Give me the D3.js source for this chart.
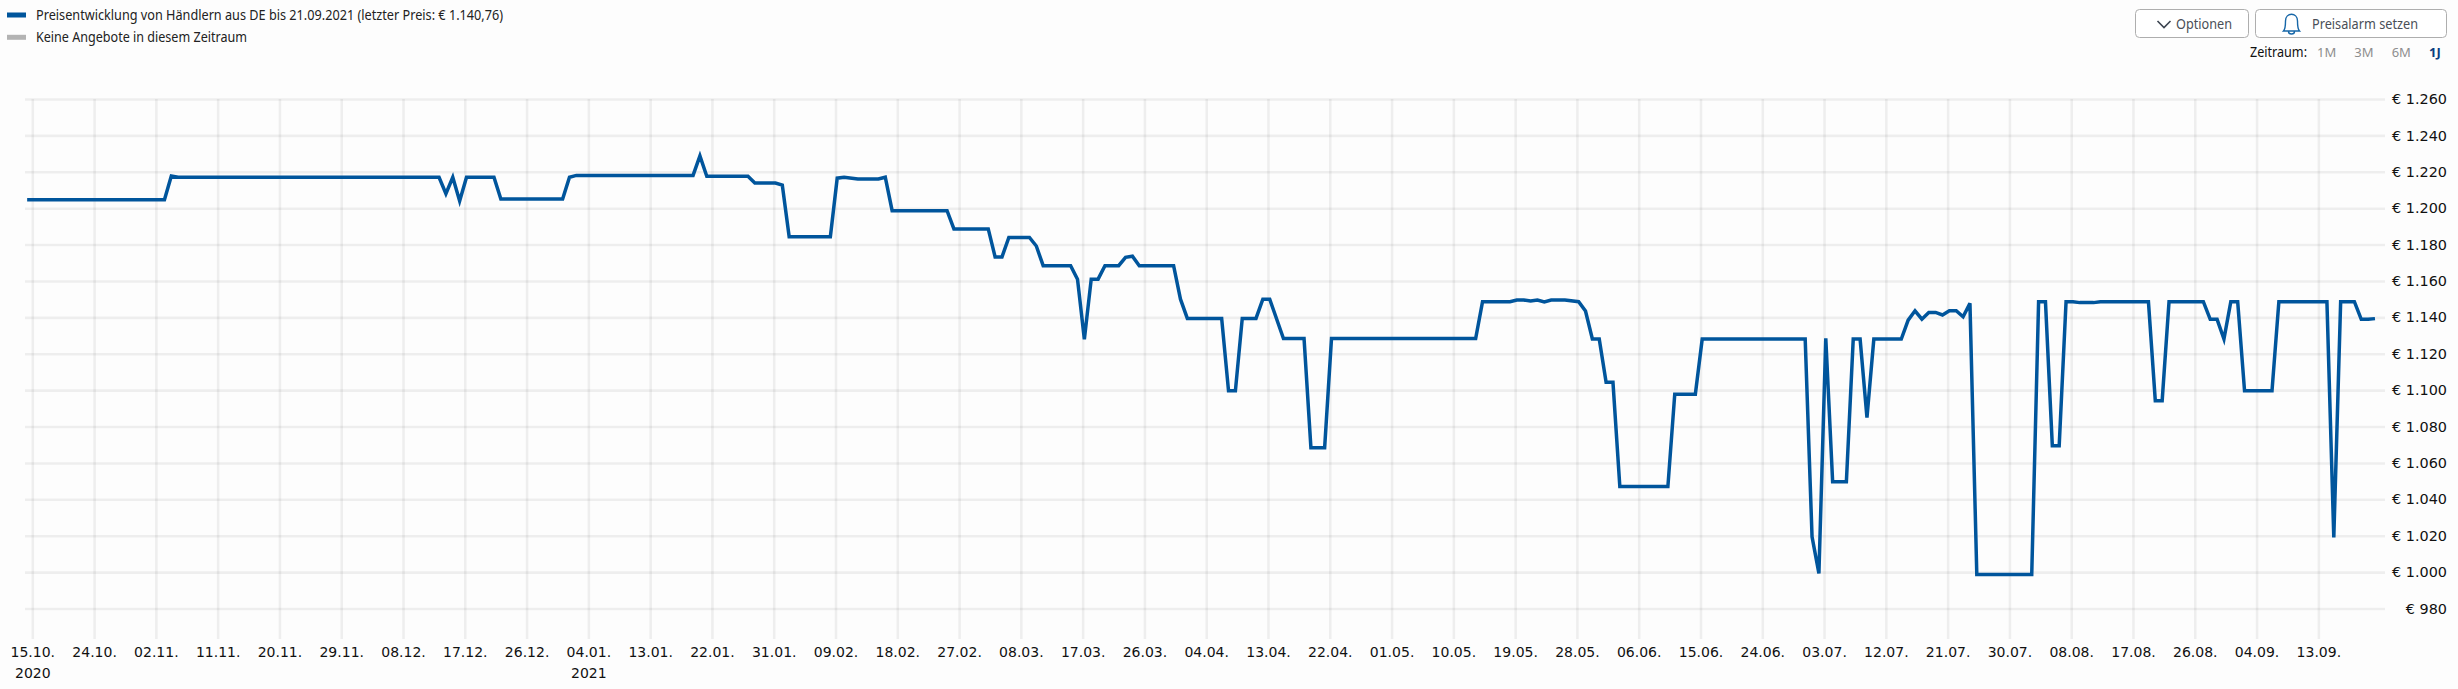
<!DOCTYPE html>
<html><head><meta charset="utf-8">
<script src="https://cdn.jsdelivr.net/npm/d3@7/dist/d3.min.js"></script>
<style>
html,body{margin:0;padding:0;background:#fdfdfd;}
svg{display:block;}
</style></head><body>
<svg id="chart" width="2458" height="689"></svg>
<script>
// ---- data ----
const firstTickDate = Date.UTC(2020, 9, 15);
// days since 15.10.2020 of each change in the price line
const priceDays = [-1,19,20,21,59,60,61,62,63,67,68,77,78,79,96,97,98,104,105,108,109,110,116,117,118,120,123,124,125,133,134,139,140,141,142,145,146,147,151,152,153,154,155,156,158,159,160,161,166,167,168,173,174,175,176,178,179,180,182,185,186,188,189,210,211,215,216,217,218,219,220,221,223,225,226,227,228,229,230,231,238,239,242,243,258,259,260,261,262,264,265,266,267,268,272,273,274,275,276,277,278,279,280,281,282,283,291,292,293,294,295,296,297,298,300,301,308,309,310,311,316,317,318,319,320,321,322,326,327,334,335,336,338,339,340,341];
const priceValues = [1204.7,1204.7,1217.7,1217,1217,1208,1217,1204,1217,1217,1205,1205,1217,1218,1218,1228.7,1217.5,1217.5,1213.8,1213.8,1212.7,1184.3,1184.3,1216.5,1217,1216,1216,1217,1198.6,1198.6,1188.6,1188.6,1173.2,1173.2,1183.9,1183.9,1179.2,1168.4,1168.4,1161,1128,1161,1161,1168.4,1168.4,1173,1173.6,1168.4,1168.4,1150,1139.4,1139.4,1099.6,1099.6,1139.4,1139.4,1150,1150,1128.4,1128.4,1068.4,1068.4,1128.4,1128.4,1148.6,1148.6,1149.5,1149.5,1149,1149.5,1148.5,1149.5,1149.5,1148.6,1143.5,1128.1,1128.1,1104.3,1104.3,1047,1047,1097.8,1097.8,1128.1,1128.1,1019.4,999.3,1128.5,1049.6,1049.6,1128.1,1128.1,1084.9,1128.1,1128.1,1138.5,1143.6,1139,1142.7,1142.7,1141.3,1143.6,1143.6,1140.3,1147.7,998.7,998.7,1148.6,1148.6,1069.4,1069.4,1148.6,1148.6,1148.1,1148.1,1148.6,1148.6,1094.2,1094.2,1148.6,1148.6,1138.9,1138.9,1128.1,1148.6,1148.6,1099.6,1099.6,1148.6,1148.6,1019,1148.6,1148.6,1138.9,1138.9,1139.3];
const priceTicks = [1260,1240,1220,1200,1180,1160,1140,1120,1100,1080,1060,1040,1020,1000,980];
const dateTickLabels = ["15.10.","24.10.","02.11.","11.11.","20.11.","29.11.","08.12.","17.12.","26.12.","04.01.","13.01.","22.01.","31.01.","09.02.","18.02.","27.02.","08.03.","17.03.","26.03.","04.04.","13.04.","22.04.","01.05.","10.05.","19.05.","28.05.","06.06.","15.06.","24.06.","03.07.","12.07.","21.07.","30.07.","08.08.","17.08.","26.08.","04.09.","13.09."];
const tickStepDays = 9;
const yearLabels = {"15.10.":"2020","04.01.":"2021"};
const legendLabels = ["Preisentwicklung von Händlern aus DE bis 21.09.2021 (letzter Preis: € 1.140,76)","Keine Angebote in diesem Zeitraum"];
const legendColors = ["#00559c","#b3b3b3"];
const rangeLabels = ["1M","3M","6M","1J"];

// ---- layout ----
const svg = d3.select("#chart");
const SANS = "'Noto Sans','Open Sans',sans-serif";
const LABEL = "'DejaVu Sans',sans-serif";
const plot = {gridLeft:25, lineLeft:27, right:2385, top:99, y980:608.5, bottom:639};
const gridColor = "rgba(0,0,0,0.06)";
const gridWidth = 2.6;
const legendWidths = [467, 211];

const pxPerDay = 6.865, x0 = 32.3;
const x = d3.scaleUtc()
  .domain([d3.utcDay.offset(firstTickDate, -1), d3.utcDay.offset(firstTickDate, 342)])
  .range([x0 - pxPerDay, x0 + 342*pxPerDay]);
const y = d3.scaleLinear().domain([1260,980]).range([plot.top, plot.y980]);

const tickDates = dateTickLabels.map((_,i)=>d3.utcDay.offset(firstTickDate,i*tickStepDays));
const labelOf = new Map(tickDates.map((d,i)=>[+d,dateTickLabels[i]]));

// vertical grid + date labels
const xAxis = d3.axisBottom(x).tickValues(tickDates).tickSize(plot.bottom-plot.top).tickPadding(0)
  .tickFormat(d=>labelOf.get(+d));
const gx = svg.append("g").attr("transform",`translate(0,${plot.top})`).call(xAxis);
gx.select(".domain").remove();
gx.selectAll(".tick line").attr("stroke",gridColor).attr("stroke-width",gridWidth);
gx.selectAll(".tick text").attr("y",plot.bottom-plot.top+8).attr("dy","0.71em")
  .attr("fill","#111").style("font",`14px ${LABEL}`);
gx.selectAll(".tick").filter(d=>yearLabels[labelOf.get(+d)])
  .append("text").attr("y",plot.bottom-plot.top+29).attr("dy","0.71em").attr("text-anchor","middle")
  .attr("fill","#111").style("font",`14px ${LABEL}`).text(d=>yearLabels[labelOf.get(+d)]);

// horizontal grid + price labels
const euro = d3.formatLocale({decimal:",",thousands:".",grouping:[3],currency:["€ ",""]}).format("$,.0f");
const yAxis = d3.axisRight(y).tickValues(priceTicks).tickSize(0).tickFormat(euro);
const gy = svg.append("g").attr("transform","translate(2447,0)").call(yAxis);
gy.select(".domain").remove();
gy.selectAll(".tick line").attr("x1",plot.gridLeft-2447).attr("x2",plot.right-2447)
  .attr("stroke",gridColor).attr("stroke-width",gridWidth);
gy.selectAll(".tick text").attr("x",0).attr("text-anchor","end")
  .attr("fill","#111").style("font",`14.4px ${LABEL}`);

// price line
const line = d3.line()
  .x(d=>x(d3.utcHour.offset(d3.utcDay.offset(firstTickDate,d),6)))
  .y((d,i)=>y(priceValues[i]));
svg.append("defs").append("clipPath").attr("id","plotClip").append("rect")
  .attr("x",plot.lineLeft).attr("y",0).attr("width",plot.right-plot.lineLeft).attr("height",689);
svg.append("path").datum(priceDays).attr("d",line).attr("fill","none")
  .attr("stroke",legendColors[0]).attr("stroke-width",3.5).attr("stroke-linejoin","miter")
  .attr("clip-path","url(#plotClip)");

// legend
const lg = svg.append("g").selectAll("g").data(legendLabels).join("g")
  .attr("transform",(d,i)=>`translate(0,${15+i*22.3})`);
lg.append("rect").attr("x",7).attr("y",-2.5).attr("width",19).attr("height",5)
  .attr("fill",(d,i)=>legendColors[i]);
lg.append("text").attr("x",36).attr("y",5).attr("fill","#222")
  .attr("textLength",(d,i)=>legendWidths[i]).attr("lengthAdjust","spacingAndGlyphs")
  .style("font",`14px ${SANS}`).text(d=>d);

// buttons
function button(x1,x2,label,tx,w){
  svg.append("rect").attr("x",x1+.5).attr("y",9.5).attr("width",x2-x1-1).attr("height",28)
    .attr("rx",4).attr("fill","#fff").attr("stroke","#aeaeae");
  svg.append("text").attr("x",tx).attr("y",29).attr("fill","#4a4f57")
    .attr("textLength",w).attr("lengthAdjust","spacingAndGlyphs")
    .style("font",`14px ${SANS}`).text(label);
}
button(2135,2249,"Optionen",2176,56);
button(2255,2447,"Preisalarm setzen",2312,106);
svg.append("path").attr("d","M2157.5 21 L2164 27.5 L2170.5 21").attr("fill","none").attr("stroke","#3c4450").attr("stroke-width",1.6);
svg.append("path").attr("d","M2283.5 31 C2285.5 29 2285.5 25 2285.5 21 C2285.5 12 2297.5 12 2297.5 21 C2297.5 25 2297.5 29 2299.5 31 Z M2288.5 31.5 A3 2.5 0 0 0 2294.5 31.5")
  .attr("fill","none").attr("stroke","#1767a8").attr("stroke-width",1.4);

// range selector
svg.append("text").attr("x",2250).attr("y",57).attr("fill","#111")
  .attr("textLength",57).attr("lengthAdjust","spacingAndGlyphs").style("font",`14px ${SANS}`).text("Zeitraum:");
const rangeX = d3.scalePoint().domain(rangeLabels).range([2317,2429]);
svg.selectAll(".rng").data(rangeLabels).join("text").attr("class","rng")
  .attr("x",d=>rangeX(d)).attr("y",57)
  .attr("fill",d=>d==="1J"?"#0a3d80":"#8e8e8e")
  .style("font",d=>`${d==="1J"?"bold ":""}13px ${SANS}`).text(d=>d);
</script>
</body></html>
